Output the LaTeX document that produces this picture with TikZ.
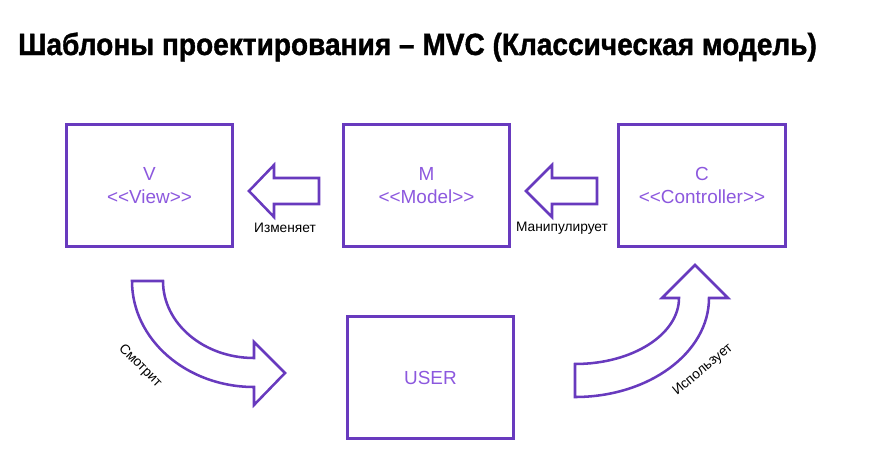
\documentclass[tikz,border=0pt]{standalone}
\usepackage{fontspec}
\setmainfont{Liberation Sans}
\newfontfamily\titlefont{Liberation Sans}[FakeStretch=0.915, FakeBold=1.2]
\definecolor{bxline}{RGB}{104,58,190}
\definecolor{bxtext}{RGB}{140,88,222}
\newcommand\oq{<\kern0pt<}
\newcommand\cq{>\kern0pt>}
\tikzset{bx/.style = {rectangle, draw=bxline, line width=2.2pt, minimum width=125pt, minimum height=92pt,
                      inner sep=0pt, text=bxtext, align=center, font=\fontsize{14.2}{17.3}\selectfont},
         lb/.style = {inner sep=0pt, text=black, font=\fontsize{10.3}{12}\selectfont},
         ar/.style = {draw=bxline, line width=1.9pt, line join=miter}}

\begin{document}
\begin{tikzpicture}[x=0.75pt, y=-0.75pt]
    \useasboundingbox (0,0) rectangle (869,461);
    \node[anchor=base west, inner sep=0pt, font=\titlefont\bfseries\fontsize{23}{28}\selectfont] (title) at (18,55)
        {Шаблоны проектирования – MVC (Классическая модель)};
    \node[bx] (v) at (149.5,185.5) {V\\\oq View\cq};
    \node[bx] (m) at (426.5,185.5) {M\\\oq Model\cq};
    \node[bx] (c) at (702,185.5) {C\\\oq Controller\cq};
    \node[bx] (u) at (430.5,377.5) {USER};
    % straight arrows
    \draw[ar] (249,191) -- (274,165) -- (274,178) -- (319,178) -- (319,204) -- (274,204) -- (274,217) -- cycle;
    \draw[ar] (526,191) -- (552,165) -- (552,178) -- (597,178) -- (597,204) -- (552,204) -- (552,217) -- cycle;
    \node[lb] (izm) at (285,228) {Изменяет};
    \node[lb] (man) at (562,228) {Манипулирует};
    % curved arrows
    \draw[ar] (132,281) arc[start angle=180, end angle=90, x radius=122, y radius=106]
        -- (254,405) -- (285,373) -- (254,342) -- (254,358)
        arc[start angle=90, end angle=180, x radius=91, y radius=77] -- cycle;
    \draw[ar] (575,364) arc[start angle=90, end angle=0, x radius=104, y radius=66]
        -- (662,298) -- (695,265) -- (728,298) -- (709,298)
        arc[start angle=0, end angle=90, x radius=134, y radius=99] -- cycle;
    \node[lb, rotate=-45] (smo) at (140,366) {Смотрит};
    \node[lb, rotate=40] (isp) at (703,370) {Использует};
\end{tikzpicture}
\end{document}
